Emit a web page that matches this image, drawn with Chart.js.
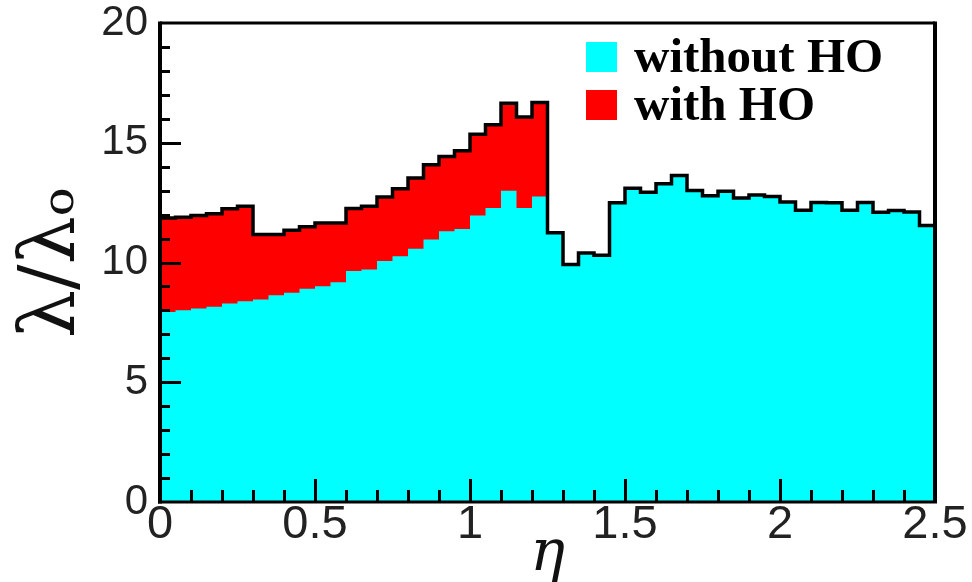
<!DOCTYPE html>
<html><head><meta charset="utf-8">
<script src="https://cdn.jsdelivr.net/npm/chart.js@4/dist/chart.umd.min.js"></script>
<style>html,body{margin:0;padding:0;background:#fff;}#wrap{width:972px;height:582px;}</style>
</head><body><div id="wrap"><canvas id="c" width="972" height="582"></canvas></div>
<script>
// eta bin edges (50 bins of 0.05)
const etaEdges = [0.00,0.05,0.10,0.15,0.20,0.25,0.30,0.35,0.40,0.45,0.50,0.55,0.60,0.65,0.70,0.75,0.80,0.85,0.90,0.95,
  1.00,1.05,1.10,1.15,1.20,1.25,1.30,1.35,1.40,1.45,1.50,1.55,1.60,1.65,1.70,1.75,1.80,1.85,1.90,1.95,
  2.00,2.05,2.10,2.15,2.20,2.25,2.30,2.35,2.40,2.45,2.50];
const withoutHO = [7.93,8.01,8.08,8.15,8.29,8.38,8.46,8.63,8.74,8.90,9.01,9.18,9.64,9.71,10.06,10.26,10.57,10.96,11.31,11.40,
  11.96,12.28,13.00,12.28,12.76,11.24,9.92,10.40,10.30,12.49,13.10,12.93,13.29,13.63,13.01,12.79,12.97,12.69,12.82,12.76,
  12.53,12.18,12.51,12.49,12.18,12.51,12.10,12.17,12.11,11.54];
const withHO = [11.86,11.89,11.96,12.04,12.24,12.35,11.17,11.17,11.35,11.49,11.65,11.65,12.25,12.35,12.74,13.08,13.53,14.08,14.43,14.67,
  15.36,15.75,16.65,16.07,16.68,11.24,9.92,10.40,10.30,12.49,13.10,12.93,13.29,13.63,13.01,12.79,12.97,12.69,12.82,12.76,
  12.53,12.18,12.51,12.49,12.18,12.51,12.10,12.17,12.11,11.54];
const xTickValues = [0, 0.5, 1, 1.5, 2, 2.5];
const xTickLabels = ['0', '0.5', '1', '1.5', '2', '2.5'];
const yTickValues = [0, 5, 10, 15, 20];
const yTickLabels = ['0', '5', '10', '15', '20'];
const seriesLabels = ['without HO', 'with HO'];
const seriesColors = ['#00FFFF', '#FF0000'];
const xTitle = 'η';
const yTitle = 'λ/λₒ';

function stepPoints(vals) {
  return etaEdges.map((x, i) => ({x: x, y: vals[Math.min(i, vals.length - 1)]}));
}

const framePlugin = {
  id: 'frame',
  afterDatasetsDraw(chart) {
    const {ctx, chartArea: a, scales: {x, y}} = chart;
    ctx.save();
    ctx.strokeStyle = '#000';
    ctx.lineCap = 'butt';
    ctx.lineWidth = 3;
    for (let k = 1; k < 25; k++) {
      const px = Math.round(x.getPixelForValue(k / 10)) + 0.5;
      const len = (k % 5 === 0) ? 23 : 12;
      ctx.beginPath(); ctx.moveTo(px, a.bottom); ctx.lineTo(px, a.bottom - len); ctx.stroke();
    }
    for (let k = 1; k < 20; k++) {
      const py = Math.round(y.getPixelForValue(k)) + 0.5;
      const len = (k % 5 === 0) ? 21 : 10;
      ctx.beginPath(); ctx.moveTo(a.left, py); ctx.lineTo(a.left + len, py); ctx.stroke();
    }
    // frame
    ctx.lineWidth = 3;
    ctx.beginPath(); ctx.moveTo(a.left, a.top); ctx.lineTo(a.right, a.top); ctx.stroke();
    ctx.beginPath(); ctx.moveTo(a.left - 2, a.bottom); ctx.lineTo(a.right + 2, a.bottom); ctx.stroke();
    ctx.lineWidth = 4;
    ctx.beginPath(); ctx.moveTo(a.right, a.top - 1.5); ctx.lineTo(a.right, a.bottom); ctx.stroke();
    ctx.beginPath(); ctx.moveTo(a.left, a.top - 1.5); ctx.lineTo(a.left, a.bottom + 1.5); ctx.stroke();
    ctx.restore();
  },
  afterDraw(chart) {
    const {ctx} = chart;
    ctx.save();
    [0, 1].forEach((i) => {
      const ds = chart.data.datasets[i];
      const top = 42 + i * 48;
      ctx.fillStyle = ds.backgroundColor;
      ctx.fillRect(586, top, 31, 30);
      ctx.fillStyle = '#000';
      ctx.font = 'bold 49px "Liberation Serif", "Times New Roman", serif';
      ctx.textBaseline = 'alphabetic';
      ctx.textAlign = 'left';
      ctx.fillText(ds.label, 634, top + 30);
    });
    ctx.restore();
  }
};

new Chart(document.getElementById('c'), {
  type: 'line',
  data: {
    datasets: [
      {label: seriesLabels[0], data: stepPoints(withoutHO), stepped: 'before', fill: 'origin',
       backgroundColor: seriesColors[0], borderWidth: 0, borderColor: 'rgba(0,0,0,0)', pointRadius: 0, order: 2},
      {label: seriesLabels[1], data: stepPoints(withHO), stepped: 'before', fill: 'origin',
       backgroundColor: seriesColors[1], borderWidth: 0, borderColor: 'rgba(0,0,0,0)', pointRadius: 0, order: 3},
      {label: 'outline', data: stepPoints(withHO), stepped: 'before', fill: false,
       borderColor: '#000', borderWidth: 3.5, borderJoinStyle: 'miter', pointRadius: 0, order: 1}
    ]
  },
  options: {
    responsive: false,
    devicePixelRatio: 1,
    animation: false,
    layout: {padding: {top: 23, right: 37, left: 0, bottom: 0}},
    plugins: {legend: {display: false}, tooltip: {enabled: false}},
    scales: {
      x: {
        type: 'linear', min: 0, max: 2.5,
        grid: {display: false, drawTicks: false},
        border: {display: false},
        afterBuildTicks: (s) => { s.ticks = xTickValues.map(v => ({value: v})); },
        afterFit: (s) => { s.height = 80; s.paddingLeft = 0; s.paddingRight = 0; },
        ticks: {
          padding: 0, maxRotation: 0, autoSkip: false, color: '#222',
          font: {family: '"Liberation Sans", Arial, sans-serif', size: 47, lineHeight: 1},
          callback: (v) => { const i = xTickValues.indexOf(v); return i >= 0 ? xTickLabels[i] : ''; }
        },
        title: {display: true, text: xTitle, color: '#111', padding: {top: 0, bottom: -8},
          font: {family: '"DejaVu Serif", "Liberation Serif", serif', style: 'italic', size: 58, lineHeight: 1.2}}
      },
      y: {
        min: 0, max: 20,
        grid: {display: false, drawTicks: false},
        border: {display: false},
        afterBuildTicks: (s) => { s.ticks = yTickValues.map(v => ({value: v})); },
        afterFit: (s) => { s.width = 160; s.paddingTop = 0; s.paddingBottom = 0; },
        ticks: {
          padding: 12, color: '#222',
          font: {family: '"Liberation Sans", Arial, sans-serif', size: 42, lineHeight: 1},
          callback: (v) => { const i = yTickValues.indexOf(v); return i >= 0 ? yTickLabels[i] : ''; }
        },
        title: {display: true, text: yTitle, color: '#111', padding: {top: 8, bottom: 0},
          font: {family: '"DejaVu Serif", "Liberation Serif", serif', size: 76, lineHeight: 1.2}}
      }
    }
  },
  plugins: [framePlugin]
});
</script>
</body></html>
